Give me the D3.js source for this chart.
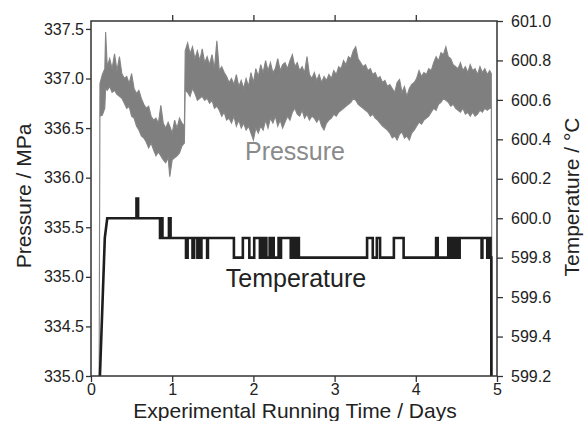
<!DOCTYPE html>
<html><head><meta charset="utf-8">
<script src="https://cdn.jsdelivr.net/npm/d3@7"></script>
<style>
html,body{margin:0;padding:0;background:#fff;}
svg{display:block;font-family:"Liberation Sans",Arial,Helvetica,sans-serif;}
</style></head>
<body>
<svg id="chart" width="586" height="421"></svg>
<script>
// ---------------- DATA ----------------
const xTicks = [0, 1, 2, 3, 4, 5];
const leftTickValues = [334.0, 334.5, 335.0, 335.5, 336.0, 336.5, 337.0, 337.5];
const leftTickLabels = ["335.0", "334.5", "335.0", "335.5", "336.0", "336.5", "337.0", "337.5"];
const rightTickValues = [599.2, 599.4, 599.6, 599.8, 600.0, 600.2, 600.4, 600.6, 600.8, 601.0];

// Pressure (MPa): band envelope (lower / upper) of the noisy trace
const pTime = [0.10,0.11,0.14,0.17,0.18,0.20,0.23,0.26,0.29,0.32,0.35,0.38,0.41,0.44,0.47,0.50,0.53,0.56,0.59,0.62,0.65,0.68,0.71,0.74,0.77,0.80,0.83,0.86,0.89,0.92,0.95,0.97,1.00,1.03,1.06,1.09,1.12,1.15,1.16,1.19,1.22,1.25,1.28,1.31,1.34,1.37,1.40,1.43,1.46,1.49,1.52,1.55,1.58,1.61,1.64,1.67,1.70,1.73,1.76,1.79,1.82,1.85,1.88,1.91,1.94,1.97,2.00,2.03,2.06,2.09,2.12,2.15,2.18,2.21,2.24,2.27,2.30,2.33,2.36,2.39,2.42,2.45,2.48,2.51,2.54,2.57,2.60,2.63,2.66,2.69,2.72,2.75,2.78,2.81,2.84,2.87,2.90,2.93,2.96,2.99,3.02,3.05,3.08,3.11,3.14,3.17,3.20,3.23,3.26,3.29,3.32,3.35,3.38,3.41,3.44,3.47,3.50,3.53,3.56,3.59,3.62,3.65,3.68,3.71,3.74,3.77,3.80,3.83,3.86,3.89,3.92,3.95,3.98,4.01,4.04,4.07,4.10,4.13,4.16,4.19,4.22,4.25,4.28,4.31,4.34,4.37,4.40,4.43,4.46,4.49,4.52,4.55,4.58,4.61,4.64,4.67,4.70,4.73,4.76,4.79,4.82,4.85,4.88,4.91,4.93,4.94];
const pLow = [334.0,336.62,336.63,336.70,336.90,336.88,336.92,336.86,336.88,336.84,336.82,336.80,336.75,336.70,336.72,336.62,336.60,336.52,336.48,336.42,336.40,336.36,336.30,336.35,336.28,336.22,336.26,336.22,336.18,336.15,336.20,336.01,336.18,336.20,336.22,336.25,336.32,336.35,336.88,336.86,336.82,336.90,336.85,336.78,336.80,336.82,336.78,336.80,336.75,336.78,336.70,336.72,336.68,336.62,336.66,336.58,336.60,336.55,336.62,336.52,336.58,336.50,336.55,336.48,336.52,336.45,336.38,336.50,336.45,336.52,336.48,336.58,336.50,336.60,336.55,336.62,336.52,336.58,336.50,336.56,336.62,336.58,336.66,336.70,336.64,336.62,336.68,336.60,336.64,336.58,336.62,336.60,336.56,336.60,336.52,336.48,336.55,336.58,336.60,336.64,336.62,336.66,336.68,336.70,336.72,336.74,336.76,336.80,336.78,336.74,336.72,336.70,336.68,336.66,336.62,336.64,336.60,336.58,336.55,336.52,336.50,336.48,336.45,336.40,336.42,336.38,336.44,336.46,336.40,336.42,336.38,336.45,336.48,336.52,336.56,336.54,336.58,336.60,336.62,336.66,336.70,336.68,336.74,336.76,336.80,336.78,336.76,336.72,336.74,336.70,336.68,336.66,336.70,336.64,336.66,336.62,336.66,336.62,336.64,336.68,336.66,336.70,336.68,336.70,336.70,334.0];
const pHigh = [334.0,336.95,337.04,337.10,337.47,337.12,337.20,337.10,337.25,337.08,337.22,337.05,337.00,337.02,336.95,337.05,336.90,336.85,336.88,336.80,336.74,336.70,336.72,336.62,336.58,336.60,336.55,336.73,336.55,336.50,336.56,336.52,336.45,336.58,336.50,336.60,336.55,336.52,337.28,337.36,337.25,337.32,337.20,337.28,337.18,337.30,337.16,337.22,337.14,337.24,337.10,337.38,337.08,337.12,337.06,337.02,336.96,337.00,336.94,337.04,336.92,336.98,336.90,337.00,336.92,337.06,336.96,337.10,337.02,337.14,337.06,337.18,337.08,337.16,337.06,337.10,337.20,337.08,337.14,337.16,337.10,337.18,337.24,337.12,337.16,337.08,337.12,337.06,337.22,337.04,337.00,337.06,336.98,337.04,336.96,337.02,336.98,337.04,337.00,337.08,337.04,337.12,337.10,337.18,337.14,337.22,337.20,337.28,337.32,337.20,337.16,337.12,337.14,337.08,337.10,337.04,337.06,337.00,337.02,336.96,336.98,336.92,336.94,336.90,336.86,336.96,336.99,336.86,336.92,336.82,336.90,336.94,336.96,337.00,337.08,337.02,337.06,337.04,337.10,337.08,337.16,337.22,337.18,337.26,337.24,337.32,337.22,337.20,337.14,337.12,337.10,337.16,337.08,337.12,337.06,337.14,337.08,337.10,337.04,337.12,337.06,337.10,337.04,337.08,337.05,334.0];

// Temperature (°C): initial ramp, then step changes (time, new value)
const tRampTime = [0.11, 0.17, 0.20];
const tRampValue = [599.2, 599.9, 600.0];
const tStepTime = [0.56,0.58,0.85,0.86,0.88,0.96,0.98,1.17,1.19,1.25,1.27,1.31,1.33,1.35,1.36,1.43,1.44,1.76,1.87,1.95,2.01,2.08,2.09,2.12,2.13,2.16,2.20,2.22,2.23,2.25,2.31,2.33,2.34,2.46,2.47,2.48,2.51,2.53,2.54,2.56,3.40,3.47,3.52,3.56,3.73,3.85,4.25,4.27,4.40,4.43,4.45,4.48,4.50,4.52,4.54,4.81,4.82,4.88,4.90,4.92,4.93];
const tStepValue = [600.1,600.0,599.9,600.0,599.9,600.0,599.9,599.8,599.9,599.8,599.9,599.8,599.9,599.8,599.9,599.8,599.9,599.8,599.9,599.8,599.9,599.8,599.9,599.8,599.9,599.8,599.9,599.8,599.9,599.8,599.9,599.8,599.9,599.8,599.9,599.8,599.9,599.8,599.9,599.8,599.9,599.8,599.9,599.8,599.9,599.8,599.9,599.8,599.9,599.8,599.9,599.8,599.9,599.8,599.9,599.8,599.9,599.8,599.9,599.8,599.2];

// ---------------- CHART ----------------
const M = {left: 91, right: 497, top: 21, bottom: 376};
const svg = d3.select("#chart");
const axisColor = "#333";

const x = d3.scaleLinear().domain([0, 5]).range([M.left, M.right]);
const yP = d3.scaleLinear().domain([334.0, 337.58]).range([M.bottom, M.top]);
const yT = d3.scaleLinear().domain([599.2, 601.0]).range([M.bottom, M.top]);

svg.append("defs").append("clipPath").attr("id", "clip")
  .append("rect").attr("x", M.left).attr("y", M.top)
  .attr("width", M.right - M.left).attr("height", M.bottom - M.top);

const plot = svg.append("g").attr("clip-path", "url(#clip)");

// Pressure band
const pData = pTime.map((t, i) => ({t, lo: pLow[i], hi: pHigh[i]}));
plot.append("path").datum(pData)
  .attr("d", d3.area().x(d => x(d.t)).y0(d => yP(d.lo)).y1(d => yP(d.hi)))
  .attr("fill", "#7f7f7f").attr("stroke", "#858585").attr("stroke-width", 1.1)
  .attr("stroke-linejoin", "miter");

// Temperature steps
const tPts = tRampTime.map((t, i) => [t, tRampValue[i]]);
let prev = tRampValue[tRampValue.length - 1];
tStepTime.forEach((t, i) => { tPts.push([t, prev]); tPts.push([t, tStepValue[i]]); prev = tStepValue[i]; });
plot.append("path").datum(tPts)
  .attr("d", d3.line().x(d => x(d[0])).y(d => yT(d[1])))
  .attr("fill", "none").attr("stroke", "#1e1e1e").attr("stroke-width", 2.6)
  .attr("stroke-linejoin", "miter");

// Axes
function styleAxis(g) {
  g.selectAll(".domain").remove();
  g.selectAll(".tick line").attr("stroke", axisColor).attr("stroke-width", 1.3);
  g.selectAll(".tick text").attr("fill", "#222").attr("font-size", 16)
    .attr("font-family", "Liberation Sans, Arial, sans-serif");
}
svg.append("g").attr("transform", `translate(0,${M.bottom})`)
  .call(d3.axisBottom(x).tickValues(xTicks).tickFormat(d3.format("d")).tickSize(6).tickPadding(2))
  .call(styleAxis);
svg.append("g").attr("transform", `translate(0,${M.top})`)
  .call(d3.axisTop(x).tickValues(xTicks.slice(1, -1)).tickFormat("").tickSize(6))
  .call(styleAxis);
svg.append("g").attr("transform", `translate(${M.left},0)`)
  .call(d3.axisLeft(yP).tickValues(leftTickValues).tickFormat((d, i) => leftTickLabels[i]).tickSize(5).tickPadding(2))
  .call(styleAxis);
svg.append("g").attr("transform", `translate(${M.right},0)`)
  .call(d3.axisRight(yT).tickValues(rightTickValues).tickFormat(d3.format(".1f")).tickSize(6).tickPadding(8))
  .call(styleAxis);

// Frame
svg.append("rect").attr("x", M.left).attr("y", M.top)
  .attr("width", M.right - M.left).attr("height", M.bottom - M.top)
  .attr("fill", "none").attr("stroke", axisColor).attr("stroke-width", 1.5);

// Titles
svg.append("text").attr("x", 295).attr("y", 418).attr("text-anchor", "middle")
  .attr("font-size", 21).attr("fill", "#222").text("Experimental Running Time / Days");
svg.append("text").attr("transform", "translate(31,196) rotate(-90)").attr("text-anchor", "middle")
  .attr("font-size", 21).attr("fill", "#222").text("Pressure / MPa");
svg.append("text").attr("transform", "translate(579,197) rotate(-90)").attr("text-anchor", "middle")
  .attr("font-size", 21).attr("fill", "#222").text("Temperature / °C");

// Series labels
svg.append("text").attr("x", 295).attr("y", 160).attr("text-anchor", "middle")
  .attr("font-size", 25).attr("fill", "#8a8a8a").text("Pressure");
svg.append("text").attr("x", 296).attr("y", 287).attr("text-anchor", "middle")
  .attr("font-size", 25).attr("fill", "#222").text("Temperature");
</script>
</body></html>
